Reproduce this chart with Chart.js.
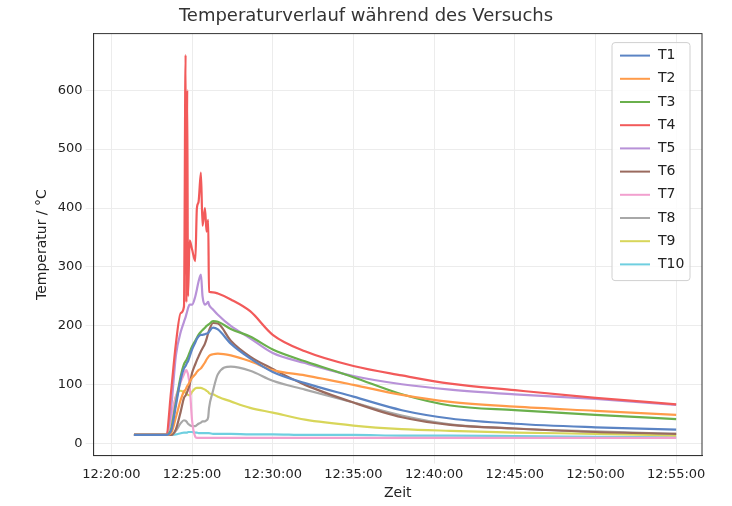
<!DOCTYPE html>
<html><head><meta charset="utf-8">
<script src="https://cdn.jsdelivr.net/npm/chart.js@4"></script>
<style>html,body{margin:0;background:#fff}#w{width:732px;height:506px}</style>
</head><body><div id="w"><canvas id="c"></canvas></div>
<script>
const labels=["T1","T2","T3","T4","T5","T6","T7","T8","T9","T10"];
const colors=["#5b84c4","#ff9b4a","#6ab04c","#f25a5a","#b892d8","#9a6a5e","#f2a0cf","#a8a8a8","#d8d65a","#6fcfe0"];
const t=[21.4,23.4,23.7,24.0,24.3,24.5,24.6,24.65,24.7,24.75,24.85,25.0,25.2,25.3,25.4,25.55,25.65,25.8,25.9,26.0,26.05,26.3,26.6,27.4,28.6,30,32,35,38,41,45,50,55];
const T4=[15,15,89,170,222,233,660,240,600,250,345,330,310,400,410,460,370,400,360,380,258,257,255,245,225,185,157,132,116,102,91,78,67];
const T5=[15,15,60,150,190,207,215,220,225,230,236,236,250,262,275,287,250,236,238,241,236,228,219,200,179,154,137,115,101,92,84,76,66];
const T3=[15,15,25,70,115,135,140,142,145,148,155,165,175,180,185,190,193,197,200,202,203,208,207,195,182,160,140,113,84,65,57,49,42];
const T1=[15,15,22,65,110,128,132,135,138,140,148,160,172,178,182,185,185,186,187,188,190,197,194,170,145,122,103,80,57,43,34,28,24];
const T2=[15,15,18,45,75,89,92,95,98,100,105,112,118,122,125,128,132,138,143,147,149,152,153,150,140,125,116,100,83,71,63,56,49];
const T6=[15,15,15,25,55,78,82,85,88,92,100,120,135,142,148,157,162,170,178,188,192,205,204,175,148,127,100,70,45,32,26,20,17];
const T8=[15,15,15,22,35,40,39,38,36,34,32,30,30,32,34,36,38,38,40,45,60,90,118,131,124,107,92,70,48,33,26,21,17];
const T7=[15,15,45,80,105,118,124,125,122,118,100,40,12,10,10,10,10,10,10,10,10,10,10,10,10,10,10,10,10,10,10,10,10];
const T9=[15,15,40,80,90,88,87,85,84,83,82,88,94,95,95,95,94,92,90,88,86,84,80,72,61,53,41,31,25,22,19,17,14];
const T10=[15,15,15,16,18,19,19,19,19,20,20,20,19,19,18,18,18,18,18,18,18,17,17,17,16,16,15,15,14,14,13,12,11];
const series=[T1,T2,T3,T4,T5,T6,T7,T8,T9,T10];
const xTicks=[20,25,30,35,40,45,50,55];
const yTicks=[0,100,200,300,400,500,600];
const datasets=series.map((s,i)=>({label:labels[i],data:s.map((v,j)=>({x:t[j],y:v})),borderColor:colors[i],backgroundColor:colors[i],borderWidth:2.2,pointRadius:0,cubicInterpolationMode:'monotone'}));
const legendPlugin={id:'lg',afterDraw(ch){const c=ch.ctx,a=ch.chartArea;
c.save();c.strokeStyle='#333';c.lineWidth=1;c.strokeRect(a.left,a.top,a.right-a.left,a.bottom-a.top);
const x0=a.right-90,y0=a.top+9,h=23.2;
c.fillStyle='rgba(255,255,255,0.85)';c.strokeStyle='#d0d0d0';
c.beginPath();c.roundRect(x0,y0,78,h*10+6,3);c.fill();c.stroke();
c.font='14px "DejaVu Sans"';c.textBaseline='middle';
ch.data.datasets.forEach((d,i)=>{const y=y0+13+i*h;c.strokeStyle=d.borderColor;c.lineWidth=2;c.beginPath();c.moveTo(x0+8,y);c.lineTo(x0+38,y);c.stroke();c.fillStyle='#222';c.fillText(d.label,x0+46,y);});c.restore();}};
new Chart(document.getElementById('c'),{type:'line',data:{datasets},plugins:[legendPlugin],
options:{responsive:true,maintainAspectRatio:false,animation:false,
layout:{padding:{left:30,right:30,top:2,bottom:4}},
plugins:{legend:{display:false},tooltip:{enabled:false},title:{display:true,text:'Temperaturverlauf während des Versuchs',color:'#333',font:{family:'DejaVu Sans',size:18,weight:'normal'},padding:{top:4,bottom:6}}},
scales:{x:{type:'linear',min:18.9,max:56.6,afterBuildTicks(ax){ax.ticks=xTicks.map(v=>({value:v}));},
ticks:{color:'#222',font:{family:'DejaVu Sans',size:13},maxRotation:0,callback:v=>'12:'+v+':00'},
grid:{color:'#ececec'},border:{color:'#333'},title:{display:true,text:'Zeit',color:'#222',font:{family:'DejaVu Sans',size:14},padding:0}},
y:{min:-20,max:696,afterBuildTicks(ax){ax.ticks=yTicks.map(v=>({value:v}));},
ticks:{color:'#222',font:{family:'DejaVu Sans',size:13}},grid:{color:'#ececec'},border:{color:'#333'},
title:{display:true,text:'Temperatur / °C',color:'#222',font:{family:'DejaVu Sans',size:14}}}}}});
</script></body></html>
